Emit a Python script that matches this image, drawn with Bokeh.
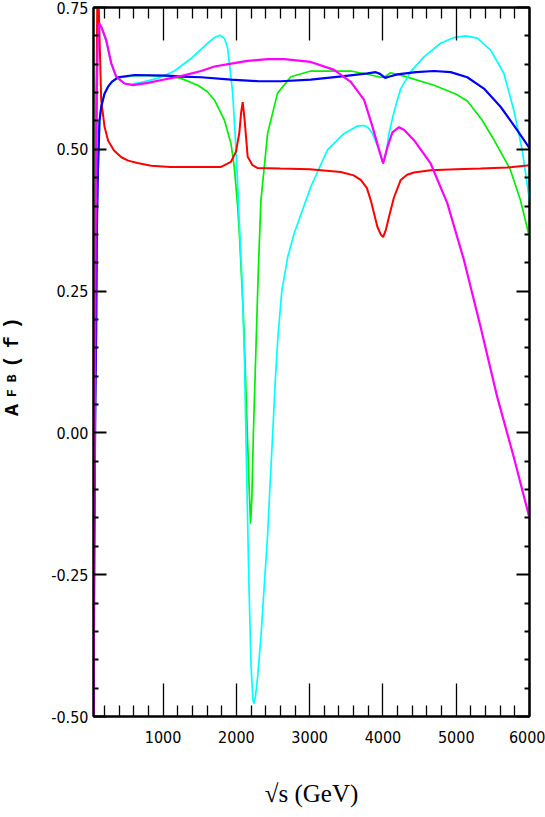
from bokeh.plotting import figure
from bokeh.models import Range1d, LinearAxis, FixedTicker, CustomLabelingPolicy, Div
from bokeh.layouts import row
from bokeh.embed import file_html
from bokeh.resources import INLINE

# ---- data ----
red_x = [50, 60, 75, 90, 105, 120, 140, 155, 200, 250, 330, 430, 523, 650, 837, 1100, 1500, 1790,
         1926, 1995, 2040, 2065, 2086, 2110, 2154, 2220, 2290, 2600, 3000, 3425, 3600, 3697, 3780,
         3834, 3925, 3970, 4002, 4040, 4083, 4150, 4243, 4330, 4424, 4651, 5000, 5332, 5700, 6000]
red_y = [-0.31, -0.15, 0.20, 0.60, 0.80, 0.76, 0.66, 0.587, 0.540, 0.515, 0.498, 0.486, 0.480, 0.476,
         0.471, 0.469, 0.469, 0.469, 0.478, 0.496, 0.529, 0.565, 0.583, 0.555, 0.487, 0.472, 0.467,
         0.466, 0.465, 0.460, 0.454, 0.446, 0.432, 0.410, 0.363, 0.350, 0.345, 0.358, 0.381, 0.415,
         0.446, 0.455, 0.459, 0.463, 0.465, 0.466, 0.468, 0.472]

green_x = [50, 60, 75, 87, 95, 110, 132, 155, 200, 247, 300, 383, 610, 800, 1000, 1109, 1245, 1473,
           1600, 1700, 1835, 1926, 1971, 2017, 2040, 2086, 2104, 2149, 2175, 2193, 2210, 2232, 2274,
           2300, 2335, 2426, 2562, 2744, 3016, 3561, 3834, 3970, 4015, 4106, 4288, 4697, 5000, 5151,
           5346, 5500, 5736, 5877, 6000]
green_y = [-0.55, -0.20, 0.05, 0.18, 0.35, 0.46, 0.55, 0.575, 0.598, 0.610, 0.619, 0.626, 0.630, 0.630,
           0.629, 0.628, 0.625, 0.613, 0.602, 0.587, 0.552, 0.510, 0.469, 0.400, 0.352, 0.234, 0.180,
           0.000, -0.100, -0.160, -0.120, 0.000, 0.180, 0.290, 0.410, 0.528, 0.599, 0.628, 0.638, 0.638,
           0.631, 0.627, 0.627, 0.635, 0.629, 0.613, 0.597, 0.585, 0.553, 0.520, 0.465, 0.410, 0.345]

cyan_x = [50, 65, 80, 95, 110, 128, 160, 223, 292, 360, 473, 564, 700, 928, 1155, 1381, 1608, 1700,
          1780, 1840, 1881, 1915, 1949, 1995, 2040, 2080, 2110, 2140, 2170, 2200, 2225, 2240, 2260,
          2290, 2335, 2380, 2426, 2460, 2496, 2530, 2567, 2620, 2700, 2789, 3016, 3243, 3470, 3652,
          3743, 3800, 3857, 3947, 4002, 4040, 4083, 4140, 4197, 4243, 4379, 4560, 4787, 4969, 5128,
          5287, 5469, 5650, 5786, 5900, 6000]
cyan_y = [-0.55, -0.10, 0.35, 0.60, 0.70, 0.720, 0.713, 0.690, 0.650, 0.627, 0.616, 0.615, 0.618,
          0.625, 0.638, 0.660, 0.687, 0.697, 0.701, 0.695, 0.678, 0.640, 0.600, 0.500, 0.370, 0.260,
          0.130, -0.070, -0.260, -0.410, -0.470, -0.477, -0.465, -0.430, -0.360, -0.270, -0.180,
          -0.090, 0.000, 0.090, 0.170, 0.250, 0.310, 0.352, 0.434, 0.499, 0.528, 0.541, 0.542, 0.538,
          0.528, 0.499, 0.475, 0.490, 0.528, 0.560, 0.587, 0.607, 0.637, 0.663, 0.687, 0.697, 0.700,
          0.696, 0.675, 0.634, 0.569, 0.499, 0.410]

magenta_x = [50, 65, 80, 95, 110, 128, 160, 223, 292, 360, 473, 587, 792, 1018, 1245, 1518, 1700,
             1971, 2153, 2426, 2653, 3016, 3334, 3561, 3743, 3857, 3947, 4002, 4061, 4129, 4220,
             4290, 4424, 4651, 4878, 5105, 5332, 5560, 5786, 6000]
magenta_y = [-0.55, -0.10, 0.35, 0.60, 0.70, 0.722, 0.715, 0.693, 0.652, 0.628, 0.616, 0.613, 0.617,
             0.623, 0.629, 0.638, 0.646, 0.652, 0.656, 0.659, 0.659, 0.654, 0.640, 0.619, 0.587, 0.540,
             0.499, 0.475, 0.504, 0.530, 0.539, 0.534, 0.516, 0.475, 0.405, 0.305, 0.187, 0.063,
             -0.043, -0.150]

blue_x = [50, 60, 75, 87, 95, 110, 132, 155, 200, 247, 300, 383, 610, 1064, 1245, 1518, 1926, 2300,
          2608, 3016, 3470, 3788, 3902, 3960, 4030, 4080, 4197, 4450, 4697, 4924, 5151, 5378, 5605,
          5832, 6000]
blue_y = [-0.55, -0.20, 0.05, 0.18, 0.35, 0.46, 0.55, 0.575, 0.598, 0.610, 0.619, 0.627, 0.631, 0.630,
          0.628, 0.627, 0.623, 0.620, 0.620, 0.623, 0.629, 0.634, 0.636, 0.633, 0.626, 0.628, 0.632,
          0.636, 0.638, 0.636, 0.627, 0.607, 0.575, 0.534, 0.502]

x_major = [1000, 2000, 3000, 4000, 5000, 6000]
x_major_labels = ["1000", "2000", "3000", "4000", "5000", "6000"]
x_minor = [200, 400, 600, 800, 1200, 1400, 1600, 1800, 2200, 2400, 2600, 2800, 3200, 3400, 3600,
           3800, 4200, 4400, 4600, 4800, 5200, 5400, 5600, 5800]
y_major = [-0.5, -0.25, 0.0, 0.25, 0.5, 0.75]
y_major_labels = ["-0.50", "-0.25", "0.00", "0.25", "0.50", "0.75"]
y_minor = [-0.45, -0.4, -0.35, -0.3, -0.2, -0.15, -0.1, -0.05, 0.05, 0.1, 0.15, 0.2, 0.3, 0.35,
           0.4, 0.45, 0.55, 0.6, 0.65, 0.7]

x_title = "\u221as (GeV)"
y_title_main = "A"
y_title_sub = "FB"
y_title_tail = "(f)"

TICK_FONT = "DejaVu Sans Condensed"
DIV_W = 25

p = figure(width=545 - DIV_W, height=817, output_backend="svg", toolbar_location=None,
           x_range=Range1d(50, 6000), y_range=Range1d(-0.5, 0.75),
           x_axis_type=None, y_axis_type=None,
           min_border_left=93 - DIV_W, min_border_right=16, min_border_top=7, min_border_bottom=101)
p.grid.visible = False
p.outline_line_color = "black"
p.outline_line_width = 2
p.background_fill_color = "white"
p.border_fill_color = "white"

xt = FixedTicker(ticks=x_major, minor_ticks=x_minor)
yt = FixedTicker(ticks=y_major, minor_ticks=y_minor)


def hide_labels(ax):
    ax.major_label_policy = CustomLabelingPolicy(code="return new Set()")
    ax.major_label_text_font_size = "0px"
    ax.major_label_standoff = 0


def style_x(ax, labels):
    ax.ticker = xt
    ax.major_tick_in = 33
    ax.major_tick_out = 0
    ax.minor_tick_in = 11
    ax.minor_tick_out = 0
    ax.major_tick_line_width = 1.3
    ax.minor_tick_line_width = 1.3
    ax.major_tick_line_color = "black"
    ax.minor_tick_line_color = "black"
    ax.axis_line_width = 2
    ax.axis_line_color = "black"
    if labels:
        ax.major_label_overrides = {v: s for v, s in zip(x_major, x_major_labels)}
        ax.major_label_text_font = TICK_FONT
        ax.major_label_text_font_size = "16px"
        ax.major_label_text_color = "black"
        ax.major_label_standoff = 14
    else:
        hide_labels(ax)


def style_y(ax, labels):
    ax.ticker = yt
    ax.major_tick_in = 13
    ax.major_tick_out = 0
    ax.minor_tick_in = 5
    ax.minor_tick_out = 0
    ax.major_tick_line_width = 2
    ax.minor_tick_line_width = 2
    ax.major_tick_line_color = "black"
    ax.minor_tick_line_color = "black"
    ax.axis_line_width = 2
    ax.axis_line_color = "black"
    if labels:
        ax.major_label_overrides = {v: s for v, s in zip(y_major, y_major_labels)}
        ax.major_label_text_font = TICK_FONT
        ax.major_label_text_font_size = "16px"
        ax.major_label_text_color = "black"
        ax.major_label_standoff = 5
    else:
        hide_labels(ax)


bottom = LinearAxis()
style_x(bottom, True)
bottom.axis_label = x_title
bottom.axis_label_text_font = "Liberation Serif"
bottom.axis_label_text_font_style = "normal"
bottom.axis_label_text_font_size = "25px"
bottom.axis_label_text_color = "black"
bottom.axis_label_standoff = 34
p.add_layout(bottom, "below")

top = LinearAxis()
style_x(top, False)
p.add_layout(top, "above")

left = LinearAxis()
style_y(left, True)
p.add_layout(left, "left")

right = LinearAxis()
style_y(right, False)
p.add_layout(right, "right")

p.line(green_x, green_y, line_color="#00ee00", line_width=1.7)
p.line(cyan_x, cyan_y, line_color="#00ffff", line_width=1.7)
p.line(red_x, red_y, line_color="#ff0000", line_width=2.0)
p.line(blue_x, blue_y, line_color="#0000ff", line_width=2.2)
p.line(magenta_x, magenta_y, line_color="#ff00ff", line_width=2.2)

# y-axis title A_FB(f): vertical HTML text (reads bottom to top) in a narrow column left of the plot
ytitle_html = (
    '<div style="position:relative;width:%dpx;height:817px;">'
    '<div style="position:absolute;left:1px;top:297px;width:24px;height:132px;line-height:24px;'
    'writing-mode:vertical-rl;transform:rotate(180deg);text-align:center;white-space:nowrap;'
    "font-family:'Liberation Mono',monospace;font-weight:bold;font-size:20px;letter-spacing:7px;"
    'color:black;">'
    '%s<span style="font-size:13px;">%s</span>%s</div></div>'
) % (DIV_W, y_title_main, y_title_sub, y_title_tail)
ydiv = Div(text=ytitle_html, width=DIV_W, height=817, margin=0)

layout = row(ydiv, p, spacing=0)

open("out.html", "w").write(file_html(layout, INLINE))
